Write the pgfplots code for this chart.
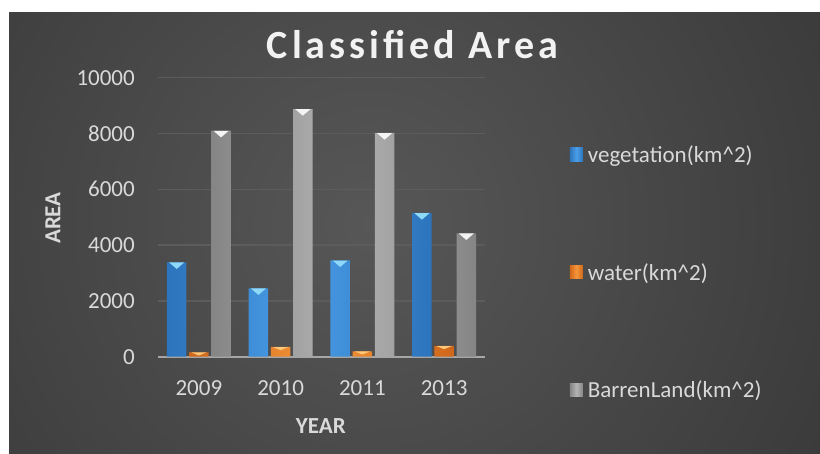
\documentclass[border=0pt]{standalone}
\usepackage{fontspec}
\setmainfont{Carlito}
\usepackage{pgfplots}
\pgfplotsset{compat=1.18}
\usetikzlibrary{shapes.geometric}
\definecolor{bgin}{HTML}{575757}
\definecolor{bgout}{HTML}{272727}
\definecolor{gridc}{HTML}{5C5C5C}
\definecolor{basec}{HTML}{A6A6A6}
\definecolor{txt}{HTML}{D9D9D9}
\definecolor{vegD}{HTML}{2C74BC}
\definecolor{vegM}{HTML}{4A9EE8}
\definecolor{vegT}{HTML}{8ED8F8}
\definecolor{watD}{HTML}{D0661A}
\definecolor{watM}{HTML}{F5973A}
\definecolor{watT}{HTML}{FFC878}
\definecolor{barD}{HTML}{858585}
\definecolor{barM}{HTML}{B4B4B4}
\definecolor{barT}{HTML}{F4F4F4}

\begin{document}
\begin{tikzpicture}
% background: white margin at top/left, dark radial gradient
\fill[white] (0bp,0bp) rectangle (820bp,454bp);
\begin{scope}
\clip (9bp,0bp) rectangle (820bp,441bp);
\shade[inner color=bgin, outer color=bgout] (370bp,230bp) circle (860bp);
\end{scope}
% title
\node[font=\fontsize{40bp}{44bp}\selectfont\bfseries\addfontfeatures{LetterSpace=10}, text=white!95!black, inner sep=0pt] at (412.5bp,409.8bp) {Classified Area};

\begin{axis}[at={(158bp,97.3bp)}, anchor=south west, scale only axis,
  width=327bp, height=279bp,
  ybar, bar width=19.5bp, ybar=2.7bp,
  xmin=-0.5, xmax=3.5, ymin=0, ymax=10000,
  xtick={0,1,2,3}, xticklabels={2009,2010,2011,2013},
  ytick={0,2000,4000,6000,8000,10000},
  scaled y ticks=false,
  /pgf/number format/1000 sep={},
  /pgf/number format/assume math mode=true,
  major tick length=0pt,
  ymajorgrids, grid style={gridc, line width=1.3bp},
  axis x line*=bottom, axis y line*=left,
  x axis line style={basec, line width=2.2bp, -},
  y axis line style={draw=none},
  tick label style={font=\fontsize{23bp}{27bp}\selectfont, text=txt},
  yticklabel style={anchor=east, inner sep=0pt, xshift=-23bp},
  xticklabel style={anchor=north, inner sep=0pt, yshift=-24bp},
  label style={font=\fontsize{23bp}{27bp}\selectfont\bfseries, text=txt},
  ylabel={AREA}, xlabel={YEAR},
  ylabel style={at={(axis description cs:-0.321,0.497)}, anchor=center},
  xlabel style={at={(axis description cs:0.498,-0.247)}, anchor=center},
  legend style={at={(1.250,0.765)}, anchor=north west, draw=none, fill=none,
    font=\fontsize{23bp}{27bp}\selectfont, text=txt, row sep=99.5bp, column sep=5bp,
    nodes={inner sep=0pt}},
  legend cell align=left,
  legend image code/.code={\fill[#1, draw=none] (0bp,-6.5bp) rectangle (13bp,7bp);},
  nodes near coords={},
  every node near coord/.append style={shape=isosceles triangle, shape border rotate=270,
    isosceles triangle stretches, minimum width=15bp, minimum height=6.5bp,
    inner sep=0pt, anchor=lower side, draw=none},
]
\addplot[draw=none, left color=vegD, right color=vegD, middle color=vegM,
  every node near coord/.append style={fill=vegT}]
  coordinates {(0,3384) (1,2452) (2,3455) (3,5151)};
\addlegendentry{vegetation(km\textasciicircum 2)}
\addplot[draw=none, left color=watD, right color=watD, middle color=watM,
  every node near coord/.append style={fill=watT, minimum height=3bp}]
  coordinates {(0,158) (1,348) (2,194) (3,384)};
\addlegendentry{water(km\textasciicircum 2)}
\addplot[draw=none, left color=barD, right color=barD, middle color=barM,
  every node near coord/.append style={fill=barT}]
  coordinates {(0,8100) (1,8878) (2,8018) (3,4423)};
\addlegendentry{BarrenLand(km\textasciicircum 2)}
\end{axis}
\end{tikzpicture}
\end{document}
